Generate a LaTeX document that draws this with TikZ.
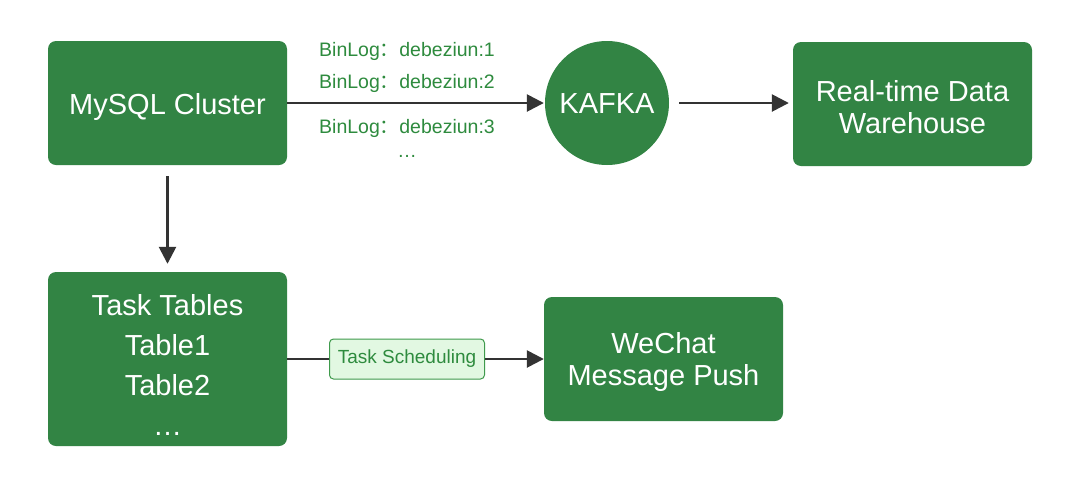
\documentclass[tikz,border=0pt]{standalone}
\usepackage{fontspec}
\setmainfont{Liberation Sans}
\newfontfamily\cjkfont{Noto Sans CJK SC}
\usetikzlibrary{arrows.meta}
\definecolor{boxgreen}{HTML}{328444}
\definecolor{labgreen}{HTML}{2E8B3E}
\definecolor{schedfill}{HTML}{E2F8E2}
\definecolor{schedline}{HTML}{3F9A4C}
\definecolor{arrowgray}{HTML}{333333}
\tikzset{
  box/.style={draw=none, fill=boxgreen, rounded corners=8pt,
    inner sep=0pt, minimum width=239pt, minimum height=124pt},
  boxtext/.style={text=white, align=center, inner sep=0pt, font=\fontsize{29}{32}\selectfont},
  arr/.style={draw=arrowgray, line width=2.6pt, -{Triangle[length=17pt,width=17pt]}},
  plainline/.style={draw=arrowgray, line width=2.6pt},
  binlab/.style={text=labgreen, font=\fontsize{19.5}{22}\selectfont, inner sep=0pt},
  schedbox/.style={draw=schedline, fill=schedfill, rounded corners=4pt, line width=1pt,
    text=labgreen, font=\fontsize{19}{22}\selectfont, minimum width=155pt, minimum height=40pt, inner sep=0pt}
}
\begin{document}
\begin{tikzpicture}[x=1pt,y=-1pt]
\useasboundingbox[fill=white] (0,0) rectangle (1080,483);
\node[box] (mysql) at (167.5,103) {};
\node[boxtext] (mysqltext) at (167.5,107) {MySQL Cluster};
\node[box] (rt) at (912.5,104) {};
\node[boxtext] (rttext) at (912.5,107) {Real-time Data\\Warehouse};
\node[circle, fill=boxgreen, minimum size=124pt, inner sep=0pt] (kafka) at (607,103) {};
\node[boxtext] (kafkatext) at (607,104) {KAFKA};
\node[box, minimum height=174pt] (task) at (167.5,359) {};
\node[boxtext, font=\fontsize{29}{40}\selectfont] (tasktext) at (167.5,365) {Task Tables\\Table1\\Table2\\…};
\node[box] (wechat) at (663.5,359) {};
\node[boxtext] (wechattext) at (663.5,362) {WeChat\\Message Push};
\node[schedbox] (sched) at (407,359) {Task Scheduling};
\node[binlab] (bl1) at (407,51) {BinLog{\cjkfont ：}debeziun:1};
\node[binlab] (bl2) at (407,83) {BinLog{\cjkfont ：}debeziun:2};
\node[binlab] (bl3) at (407,128) {BinLog{\cjkfont ：}debeziun:3};
\node[binlab] (bldots) at (407,156) {…};
\draw[arr] (mysql.east) -- ([xshift=-1pt]kafka.west);
\draw[arr] ([xshift=10pt]kafka.east) -- ([xshift=-4pt]rt.west |- kafka.east);
\draw[arr] ([yshift=-11pt]mysql.south) -- ([yshift=8pt]task.north);
\draw[plainline] (task.east) -- (sched.west);
\draw[arr] (sched.east) -- (wechat.west);
\end{tikzpicture}
\end{document}
